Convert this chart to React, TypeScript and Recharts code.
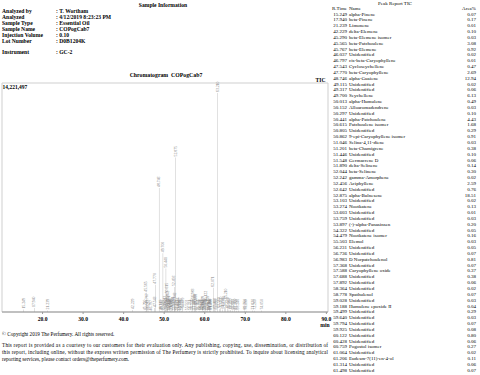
import React from 'react';
import { BarChart, Bar, XAxis, YAxis, LabelList, ReferenceArea } from 'recharts';

// ---------- Sample information ----------
const infoLabels = ['Analyzed by', 'Analyzed', 'Sample Type', 'Sample Name', 'Injection Volume', 'Lot Number', 'Instrument'];
const infoValues = ['T. Wortham', '4/12/2019 8:23:23 PM', 'Essential Oil', 'COPogCab7', '0.10', 'D0B1204K', 'GC-2'];

// ---------- Peak report table ----------
const tableTimes = [
  '15.249', '17.940', '21.239', '42.229', '45.290', '45.565', '45.767', '46.037', '46.797', '47.543',
  '47.770', '48.746', '49.115', '49.317', '49.700', '50.013', '50.152', '50.297', '50.441', '50.615',
  '50.805', '50.862', '51.046', '51.201', '51.446', '51.548', '51.890', '52.044', '52.242', '52.456',
  '52.642', '52.875', '53.103', '53.274', '53.603', '53.759', '53.897', '54.322', '54.479', '55.503',
  '56.231', '56.736', '56.983', '57.368', '57.588', '57.688', '57.892', '58.364', '58.778', '59.028',
  '59.188', '59.499', '59.640', '59.794', '59.925', '60.122', '60.428', '60.759', '61.064', '61.206',
  '61.314', '61.498',
];
const tableNames = [
  'alpha-Pinene', 'beta-Pinene', 'Limonene', 'delta-Elemene', 'beta-Elemene isomer', 'beta-Patchoulene',
  'beta-Elemene', 'Unidentified', 'cis-beta-Caryophyllene', 'Cycloseychellene', 'beta-Caryophyllene',
  'alpha-Guaiene', 'Unidentified', 'Unidentified', 'Seychellene', 'alpha-Humulene', 'Alloaromadendrene',
  'Unidentified', 'alpha-Patchoulene', 'Patchoulene isomer', 'Unidentified', '9-epi-Caryophyllene isomer',
  'Selina-4,11-diene', 'beta-Chamigrene', 'Unidentified', 'Germacrene D', 'delta-Selinene', 'beta-Selinene',
  'gamma-Amorphene', 'Aciphyllene', 'Unidentified', 'alpha-Bulnesene', 'Unidentified', 'Nootkatene',
  'Unidentified', 'Unidentified', '(-)-alpha-Panasinsen', 'Unidentified', 'Nootkatene isomer', 'Elemol',
  'Unidentified', 'Unidentified', 'D Norpatchoulenol', 'Unidentified', 'Caryophyllene oxide', 'Unidentified',
  'Unidentified', 'Unidentified', 'Spathulenol', 'Unidentified', 'Humulene epoxide II', 'Unidentified',
  'Unidentified', 'Unidentified', 'Unidentified', 'Unidentified', 'Unidentified', 'Pogostol isomer',
  'Unidentified', 'Eudesm-7(11)-en-4-ol', 'Unidentified', 'Unidentified',
];
const tableAreas = [
  '0.07', '0.17', '0.01', '0.10', '0.03', '3.08', '0.92', '0.02', '0.01', '0.47',
  '2.69', '12.94', '0.02', '0.06', '6.13', '0.49', '0.03', '0.10', '4.43', '1.68',
  '0.29', '0.91', '0.03', '0.38', '0.10', '0.06', '0.14', '0.30', '0.02', '2.59',
  '0.76', '18.51', '0.02', '0.13', '0.01', '0.03', '0.20', '0.05', '0.16', '0.03',
  '0.05', '0.07', '0.81', '0.07', '0.37', '0.38', '0.06', '0.02', '0.07', '0.03',
  '0.04', '0.29', '0.03', '0.07', '0.08', '0.80', '0.06', '0.27', '0.02', '0.11',
  '0.06', '0.07',
];

// ---------- Chromatogram peaks (retention time, intensity) ----------
const peakTimes = [
  15.249, 17.94, 21.239, 42.229, 45.29, 45.565, 45.767, 46.037, 46.797, 47.543,
  47.77, 48.746, 49.115, 49.317, 49.7, 50.013, 50.152, 50.297, 50.441, 50.615,
  50.805, 50.862, 51.046, 51.201, 51.446, 51.548, 51.89, 52.044, 52.242, 52.456,
  52.642, 52.875, 53.103, 53.274, 53.603, 53.759, 53.897, 54.322, 54.479, 55.503,
  56.231, 56.736, 56.983, 57.368, 57.588, 57.688, 57.892, 58.364, 58.778, 59.028,
  59.188, 59.499, 59.64, 59.794, 59.925, 60.122, 60.428, 60.759, 61.064, 61.206,
  61.314, 61.498, 62.071, 62.41, 62.69, 63.21, 63.56, 63.93, 64.35, 64.78,
  65.21, 65.57, 65.98, 66.42, 66.88, 67.35, 67.76, 68.24, 69.75, 70.19,
  71.83, 72.26, 74.05,
];
const peakHeights = [
  150000, 250000, 100000, 120000, 60000, 1200000, 450000, 50000, 30000, 250000,
  1700000, 7700000, 60000, 80000, 3650000, 300000, 60000, 120000, 2700000, 1100000,
  250000, 600000, 50000, 300000, 100000, 80000, 150000, 250000, 40000, 1550000,
  500000, 9600000, 40000, 150000, 30000, 50000, 200000, 60000, 180000, 50000,
  60000, 80000, 750000, 80000, 400000, 400000, 80000, 40000, 80000, 50000,
  60000, 300000, 50000, 80000, 100000, 600000, 80000, 300000, 40000, 120000,
  80000, 80000, 1500000, 150000, 100000, 13600000, 200000, 250000, 150000, 300000,
  750000, 200000, 150000, 120000, 100000, 120000, 80000, 100000, 100000, 80000,
  100000, 80000, 90000,
];
const xTicks = [20, 30, 40, 50, 60, 70, 80, 90];
const Y_MAX = 14221497;

const chartData = peakTimes.map((t, i) => ({ t, h: peakHeights[i], label: t.toFixed(3) }));

const SERIF = '"Liberation Serif", "DejaVu Serif", serif';

const PeakLabel = (props: any) => {
  const { x, y, width, value } = props;
  const cx = Number(x) + Number(width) / 2 + 1.3;
  const ty = Number(y) - 1;
  return (
    <text x={cx} y={ty} transform={`rotate(-90 ${cx} ${ty})`} fontSize={3.8} fill="#808080" fontFamily={SERIF}>
      {value}
    </text>
  );
};

const Tick = (props: any) => {
  const { x, y, payload } = props;
  return (
    <text x={x} y={Number(y) + 4.5} textAnchor="middle" fontSize={5.6} fontWeight="bold" fill="#000" fontFamily={SERIF}>
      {Number(payload.value).toFixed(1)}
    </text>
  );
};

const footerLines = [
  'This report is provided as a courtesy to our customers for their evaluation only. Any publishing, copying, use, dissemination, or distribution of',
  'this report, including online, without the express written permission of The Perfumery is strictly prohibited. To inquire about licensing analytical',
  'reporting services, please contact orders@theperfumery.com.',
];

export default function App() {
  const rowH = 5.84;
  return (
    <div style={{ position: 'absolute', left: 0, top: 0, width: 480, height: 375, background: '#fff', overflow: 'hidden' }}>
      <svg width={480} height={375} style={{ position: 'absolute', left: 0, top: 0 }} fontFamily={SERIF}>
        {/* Sample information */}
        <text x={163} y={7} textAnchor="middle" fontSize={5.6} fontWeight="bold">Sample Information</text>
        {infoLabels.map((l, i) => {
          const y = (i === 6 ? 51.7 : 11 + i * 6.05) + 2;
          return (
            <g key={l}>
              <text x={2} y={y} fontSize={5.6} fontWeight="bold">{l}</text>
              <text x={56} y={y} fontSize={5.6} fontWeight="bold">{': ' + infoValues[i]}</text>
            </g>
          );
        })}
        {/* chart titles */}
        <text x={166} y={77} textAnchor="middle" fontSize={5.8} fontWeight="bold" style={{ whiteSpace: 'pre' }}>Chromatogram  COPogCab7</text>
        <text x={2.5} y={89} fontSize={5.5} fontWeight="bold">14,221,497</text>
        <text x={325.5} y={82} textAnchor="end" fontSize={5.6} fontWeight="bold">TIC</text>
        <text x={325} y={326.5} textAnchor="middle" fontSize={5.6} fontWeight="bold">min</text>
        {/* footer */}
        <text x={2} y={336} fontSize={5.2}>© Copyright 2019 The Perfumery. All rights reserved.</text>
        {footerLines.map((l, i) => (
          <text key={i} x={2} y={346.8 + i * 7} fontSize={5.2}
            {...(i < 2 ? { textLength: 326, lengthAdjust: 'spacing' } : {})}>{l}</text>
        ))}
        {/* Peak report */}
        <text x={395} y={4.6} textAnchor="middle" fontSize={5}>Peak Report TIC</text>
        <text x={347} y={10.4} textAnchor="end" fontSize={5}>R.Time</text>
        <text x={349} y={10.4} fontSize={5}>Name</text>
        <text x={476} y={10.4} textAnchor="end" fontSize={5}>Area%</text>
        {tableTimes.map((t, i) => {
          const y = 13.8 + i * rowH + 1.7;
          return (
            <g key={i}>
              <text x={347} y={y} textAnchor="end" fontSize={5}>{t}</text>
              <text x={349} y={y} fontSize={5}>{tableNames[i]}</text>
              <text x={476} y={y} textAnchor="end" fontSize={5}>{tableAreas[i]}</text>
            </g>
          );
        })}
      </svg>
      <div style={{ position: 'absolute', left: 0, top: 0 }}>
        <BarChart width={340} height={330} data={chartData} margin={{ top: 83, right: 12, bottom: 0, left: 2 }}>
          <XAxis
            type="number"
            dataKey="t"
            domain={[10, 90.4]}
            ticks={xTicks}
            allowDataOverflow
            height={18}
            tick={<Tick />}
            tickLine={{ stroke: '#999' }}
            tickSize={2}
            axisLine={{ stroke: '#999' }}
          />
          <YAxis hide domain={[0, Y_MAX]} allowDataOverflow />
          <ReferenceArea x1={10} x2={90.4} y1={0} y2={Y_MAX} fill="none" stroke="#cfcfcf" strokeWidth={1} ifOverflow="visible" />
          <Bar dataKey="h" barSize={1} fill="#707070" isAnimationActive={false}>
            <LabelList dataKey="label" content={<PeakLabel />} />
          </Bar>
        </BarChart>
      </div>
    </div>
  );
}
